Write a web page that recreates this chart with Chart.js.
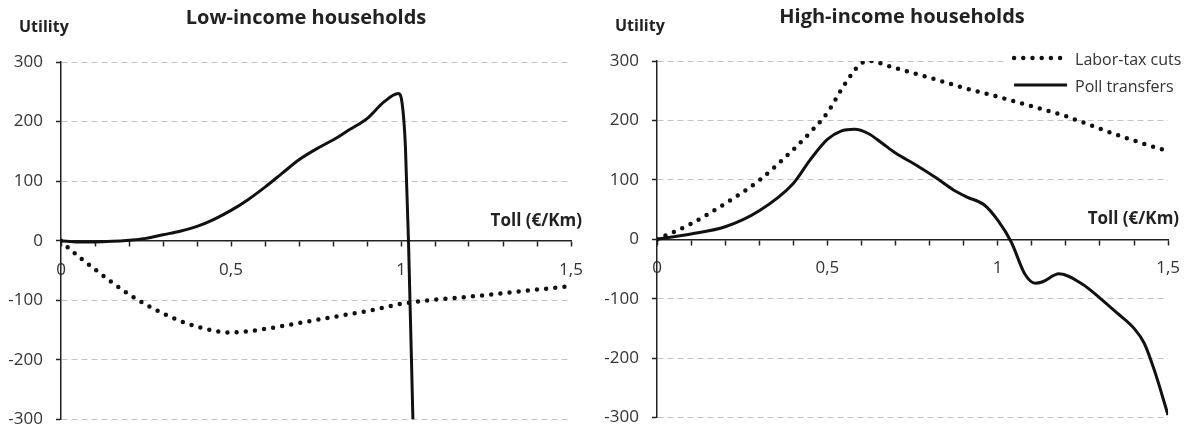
<!DOCTYPE html>
<html>
<head>
<meta charset="utf-8">
<script src="https://cdn.jsdelivr.net/npm/chart.js@4.4.1/dist/chart.umd.min.js"></script>
<style>
  html, body { margin: 0; padding: 0; background: #fff; }
  #wrap { position: relative; width: 1194px; height: 433px; }
  canvas { position: absolute; top: 0; }
  #lowChart { left: 0; }
  #highChart { left: 597px; }
</style>
</head>
<body>
<div id="wrap">
  <canvas id="lowChart" width="597" height="433"></canvas>
  <canvas id="highChart" width="597" height="433"></canvas>
</div>
<script>
// tick labels
const tollTicks = [0, 0.5, 1, 1.5];
const utilityTicks = [-300, -200, -100, 0, 100, 200, 300];
const seriesNames = ['Labor-tax cuts', 'Poll transfers'];

// low-income households
const lowLaborToll = [0, 0.02, 0.1, 0.2, 0.3, 0.4, 0.5, 0.6, 0.7, 0.8, 0.9, 1.0, 1.1, 1.2, 1.3, 1.4, 1.5];
const lowLaborUtil = [0, -11, -48, -90, -122, -144, -154, -148, -138, -128, -118, -106, -99, -94, -88, -82, -76];
const lowPollToll = [0, 0.05, 0.1, 0.15, 0.2, 0.25, 0.3, 0.35, 0.4, 0.45, 0.5, 0.55, 0.6, 0.65, 0.7, 0.76, 0.8, 0.85, 0.9, 0.95, 0.992, 1.003, 1.013, 1.022, 1.035];
const lowPollUtil = [0, -2, -2, -1, 1, 4, 10, 16, 24, 36, 51, 69, 90, 113, 136, 157, 169, 187, 205, 233, 247, 232, 158, 0, -300];

// high-income households
const highLaborToll = [0, 0.1, 0.2, 0.3, 0.4, 0.45, 0.5, 0.55, 0.6, 0.63, 0.65, 0.7, 0.8, 0.9, 1.0, 1.1, 1.2, 1.3, 1.4, 1.5];
const highLaborUtil = [0, 26, 60, 99, 151, 180, 213, 260, 296, 300, 297, 288, 272, 255, 240, 224, 207, 186, 166, 148];
const highPollToll = [0, 0.1, 0.2, 0.3, 0.4, 0.45, 0.5, 0.54, 0.58, 0.62, 0.66, 0.7, 0.76, 0.82, 0.87, 0.91, 0.96, 1.0, 1.04, 1.08, 1.11, 1.13, 1.18, 1.25, 1.3, 1.35, 1.4, 1.43, 1.46, 1.5];
const highPollUtil = [0, 9, 21, 48, 94, 134, 168, 182, 185, 178, 162, 145, 125, 103, 83, 71, 58, 32, -5, -59, -74, -72, -58, -76, -99, -124, -150, -175, -221, -296];

const ink = '#111';
const textColor = '#333';
const font = '"Open Sans", "DejaVu Sans", sans-serif';

const toPoints = (xs, ys) => xs.map((x, i) => ({ x: x, y: ys[i] }));

function laborSet(xs, ys) {
  return {
    label: seriesNames[0],
    data: toPoints(xs, ys),
    showLine: true,
    borderColor: ink,
    borderWidth: 4.5,
    borderDash: [0, 9.2],
    borderCapStyle: 'round',
    pointRadius: 0,
    cubicInterpolationMode: 'monotone'
  };
}

function pollSet(xs, ys) {
  return {
    label: seriesNames[1],
    data: toPoints(xs, ys),
    showLine: true,
    borderColor: ink,
    borderWidth: 3,
    borderJoinStyle: 'round',
    pointRadius: 0,
    cubicInterpolationMode: 'monotone'
  };
}

// titles, axis names and the legend box
const decorPlugin = {
  id: 'decor',
  afterDraw(chart, args, opts) {
    const { ctx, chartArea } = chart;
    const zeroY = chart.scales.y.getPixelForValue(0);
    ctx.save();
    ctx.fillStyle = '#222';
    ctx.textBaseline = 'alphabetic';

    ctx.font = 'bold 20px ' + font;
    ctx.textAlign = 'center';
    ctx.fillText(opts.title, chartArea.left + 245, chartArea.top - 38);

    ctx.font = 'bold 16px ' + font;
    ctx.textAlign = 'left';
    ctx.fillText('Utility', chartArea.left - 42, chartArea.top - 30);

    ctx.font = 'bold 17px ' + font;
    ctx.textAlign = 'right';
    ctx.fillText('Toll (€/Km)', chartArea.right + 11, zeroY - 15);

    if (opts.legend) {
      const x0 = chartArea.right - 154;
      ctx.fillStyle = '#fff';
      ctx.fillRect(x0 - 9, chartArea.top - 14, chart.width - x0 + 9, 50);
      ctx.font = '16px ' + font;
      ctx.textAlign = 'left';
      chart.data.datasets.forEach((ds, i) => {
        const y = chartArea.top - 3 + i * 27;
        ctx.beginPath();
        ctx.setLineDash(ds.borderDash || []);
        ctx.lineCap = ds.borderCapStyle || 'butt';
        ctx.lineWidth = ds.borderWidth;
        ctx.strokeStyle = ds.borderColor;
        ctx.moveTo(x0, y);
        ctx.lineTo(x0 + 53, y);
        ctx.stroke();
        ctx.setLineDash([]);
        ctx.fillStyle = textColor;
        ctx.fillText(ds.label, x0 + 61, y + 7);
      });
    }
    ctx.restore();
  }
};

function makeChart(id, datasets, title, legend, axisWidth, pad) {
  return new Chart(document.getElementById(id), {
    type: 'scatter',
    data: { datasets: datasets },
    plugins: [decorPlugin],
    options: {
      responsive: false,
      animation: false,
      layout: { padding: pad },
      plugins: {
        legend: { display: false },
        tooltip: { enabled: false },
        decor: { title: title, legend: legend }
      },
      scales: {
        x: {
          type: 'linear',
          position: { y: 0 },
          min: 0,
          max: 1.5,
          grid: {
            drawOnChartArea: false,
            drawTicks: true,
            tickLength: 5,
            tickColor: '#222',
            tickWidth: 1.5
          },
          border: { display: true, color: '#222', width: 1.5 },
          ticks: {
            stepSize: 0.1,
            autoSkip: false,
            maxRotation: 0,
            padding: 14,
            color: textColor,
            font: { family: font, size: 17 },
            callback: (v) => {
              const r = Math.round(v * 10) / 10;
              return tollTicks.includes(r) ? String(r).replace('.', ',') : '';
            }
          }
        },
        y: {
          type: 'linear',
          min: utilityTicks[0],
          max: utilityTicks[utilityTicks.length - 1],
          afterFit: (s) => {
            s.width = axisWidth;
            s.paddingTop = 8;
            s.paddingBottom = 8;
          },
          grid: {
            color: '#c4c4c4',
            lineWidth: 1,
            tickLength: 5,
            tickColor: '#222',
            tickWidth: 1.5
          },
          border: { display: true, color: '#222', width: 1.5, dash: [6, 4] },
          ticks: {
            stepSize: 100,
            padding: 13,
            color: textColor,
            font: { family: font, size: 17 },
            callback: (v) => String(v)
          }
        }
      }
    }
  });
}

makeChart('lowChart',
  [laborSet(lowLaborToll, lowLaborUtil), pollSet(lowPollToll, lowPollUtil)],
  'Low-income households', false, 61,
  { left: 0, right: 26, top: 62, bottom: 13.5 });

makeChart('highChart',
  [laborSet(highLaborToll, highLaborUtil), pollSet(highPollToll, highPollUtil)],
  'High-income households', true, 60,
  { left: 0, right: 25, top: 61, bottom: 15.5 });
</script>
</body>
</html>
